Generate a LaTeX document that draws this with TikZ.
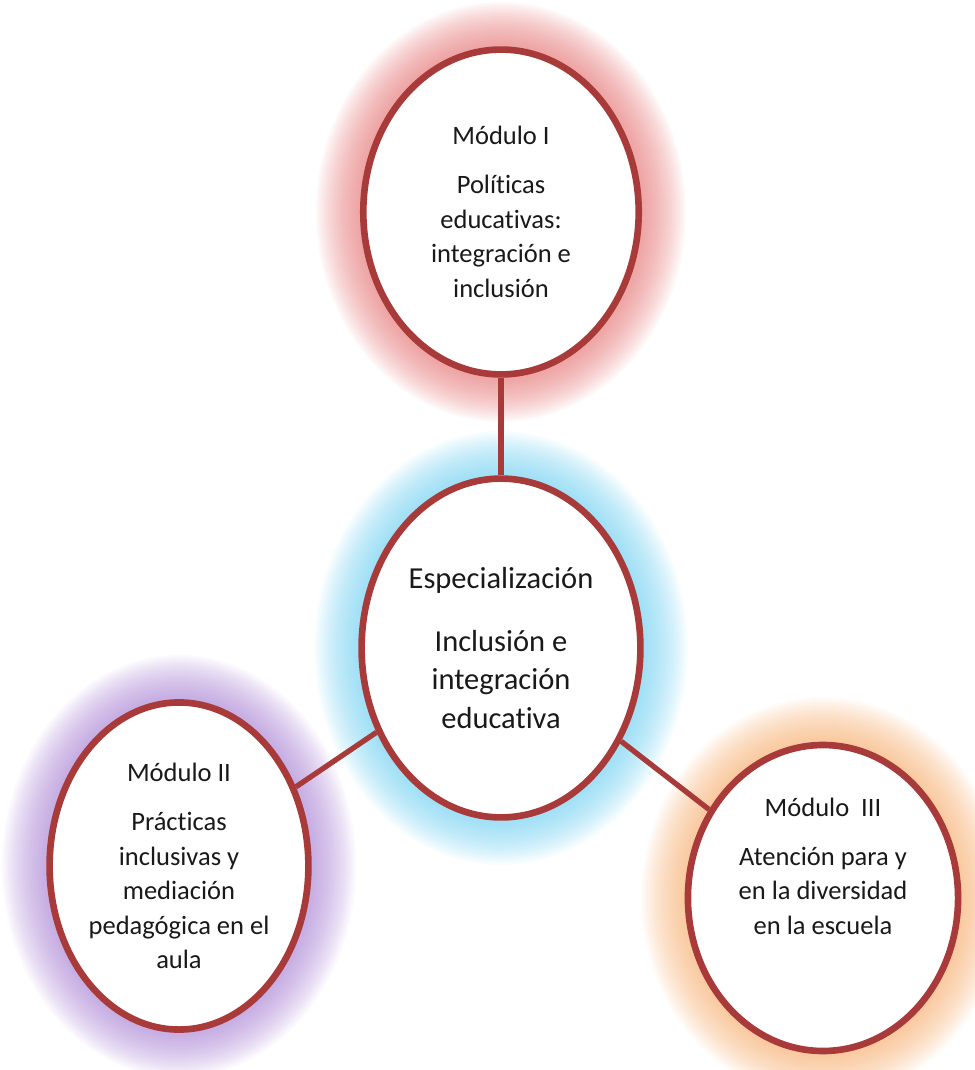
\documentclass[tikz,border=0pt]{standalone}
\usepackage{fontspec}
\setmainfont{Carlito}[RawFeature={-liga;-clig;-dlig}]
\usetikzlibrary{shapes.geometric}

\definecolor{borde}{RGB}{168,58,58}
\definecolor{texto}{RGB}{25,25,25}
\definecolor{brillorojo}{RGB}{228,110,110}
\definecolor{brilloazul}{RGB}{105,205,240}
\definecolor{brillolila}{RGB}{165,125,210}
\definecolor{brillonaranja}{RGB}{246,170,105}

\pgfdeclarelayer{brillo}
\pgfdeclarelayer{lineas}
\pgfsetlayers{brillo,lineas,main}

\tikzset{
  modulo/.style={draw=borde,line width=5pt,fill=white,ellipse,align=center,
    text=texto,inner sep=0pt,font=\fontsize{20}{26}\selectfont},
  centro/.style={modulo,font=\fontsize{23}{29}\selectfont},
  enlace/.style={draw=borde,line width=4pt}
}

\begin{document}
\begin{tikzpicture}
  [x=0.0265cm,y=-0.0265cm]
  \useasboundingbox (0,0) rectangle (974,1070);
  \node[centro,minimum width=7.39cm,minimum height=8.98cm] (ce) at (501,648)
    {Especialización\\[18pt]Inclusión e\\integración\\educativa};
  \node[modulo,minimum width=7.3cm,minimum height=8.61cm] (m1) at (501,212)
    {Módulo I\\[11pt]Políticas\\educativas:\\integración e\\inclusión};
  \node[modulo,minimum width=6.86cm,minimum height=8.67cm] (m2) at (179,866)
    {Módulo II\\[11pt]Prácticas\\inclusivas y\\mediación\\pedagógica en el\\aula};
  \node[modulo,minimum width=7.16cm,minimum height=8.11cm,text depth=48pt] (m3) at (823,898)
    {Módulo~ III\\[11pt]Atención para y\\en la diversidad\\en la escuela};
  \begin{pgfonlayer}{lineas}
    \foreach \to in {m1,m2,m3}
      \draw[enlace] (ce) -- (\to);
  \end{pgfonlayer}
  \begin{pgfonlayer}{brillo}
    \foreach \n/\rx/\ry/\c in {m1/141/166/brillorojo,ce/143/173/brilloazul,m2/133/167/brillolila,m3/138/157/brillonaranja}
      \foreach \k in {0,2,...,44}
        \fill[\c,opacity=0.045] (\n.center) ellipse ({\rx+\k} and {\ry+\k});
  \end{pgfonlayer}
\end{tikzpicture}
\end{document}
